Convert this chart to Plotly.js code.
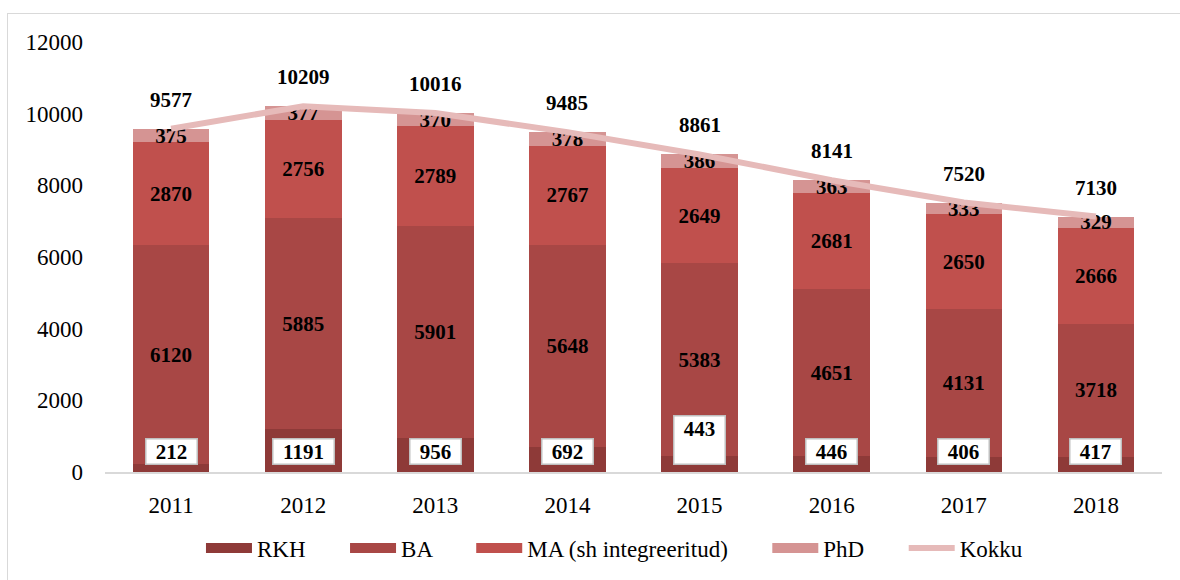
<!DOCTYPE html>
<html><head><meta charset="utf-8">
<script src="https://cdn.plot.ly/plotly-3.0.1.min.js"></script>
<style>
html,body{margin:0;padding:0;background:#fff;}
#wrap{position:relative;width:1180px;height:580px;overflow:hidden;}
#chart{position:absolute;left:0;top:0;width:1180px;height:580px;}
#frame{position:absolute;left:7px;top:13px;width:1300px;height:700px;border:1.5px solid #d9d9d9;pointer-events:none;}
</style></head>
<body><div id="wrap"><div id="chart"></div><div id="frame"></div></div>
<script>
const years = ['2011','2012','2013','2014','2015','2016','2017','2018'];
const rkh = [212,1191,956,692,443,446,406,417];
const ba  = [6120,5885,5901,5648,5383,4651,4131,3718];
const ma  = [2870,2756,2789,2767,2649,2681,2650,2666];
const phd = [375,377,370,378,386,363,333,329];
const kokku = [9577,10209,10016,9485,8861,8141,7520,7130];
const seriesNames = ['RKH','BA','MA (sh integreeritud)','PhD','Kokku'];
const colors = ['#8E3A38','#A84745','#C0504D','#D59493','#E6BAB9'];

const font = 'Liberation Serif, Times New Roman, serif';
const labFont = {family:font,size:21,color:'#000',weight:'bold'};

function barTrace(name, vals, color, showText){
  return {type:'bar', name:name, x:years, y:vals, showlegend:false, legendgroup:name,
    marker:{color:color, line:{width:0}},
    text: showText ? vals.map(String) : undefined,
    texttemplate: showText ? '<b>%{text}</b>' : undefined,
    textposition: showText ? 'inside' : 'none',
    insidetextanchor:'middle', textangle:0, constraintext:'none',
    insidetextfont:labFont, hoverinfo:'none'};
}
// legend-only entries drawn as thick line swatches
function legendEntry(name, color, width, last){
  return {type:'scatter', mode:'lines', name: last ? name : name + '      ', x:[null], y:[null],
    legendgroup:name, line:{color:color, width:width}, hoverinfo:'none'};
}
const traces = [
  barTrace(seriesNames[0], rkh, colors[0], false),
  barTrace(seriesNames[1], ba, colors[1], true),
  barTrace(seriesNames[2], ma, colors[2], true),
  barTrace(seriesNames[3], phd, colors[3], true),
  {type:'scatter', mode:'lines', name:seriesNames[4], x:years, y:kokku, showlegend:false,
   line:{color:colors[4], width:6}, hoverinfo:'none'},
  legendEntry(seriesNames[0], colors[0], 13),
  legendEntry(seriesNames[1], colors[1], 13),
  legendEntry(seriesNames[2], colors[2], 13),
  legendEntry(seriesNames[3], colors[3], 13),
  legendEntry(seriesNames[4], colors[4], 6, true)
];

const annotations = [];
kokku.forEach((v,i)=>{
  annotations.push({x:i, y:v, xref:'x', yref:'y', text:'<b>'+v+'</b>',
    showarrow:false, yanchor:'middle', yshift:29, font:labFont});
});
rkh.forEach((v,i)=>{
  const a = {x:i, y:0, xref:'x', yref:'y', text:'<b>'+v+'</b>',
    showarrow:false, yanchor:'bottom', yshift:7, font:labFont,
    bgcolor:'#fff', bordercolor:'#bfbfbf', borderwidth:1.5, borderpad:0, width:50, height:24};
  if (v === 443) { a.height = 47; a.valign = 'top'; }
  if (v >= 1000) a.width = 60;
  annotations.push(a);
});

const layout = {
  width:1180, height:580,
  margin:{l:105, r:18, t:42, b:107},
  paper_bgcolor:'rgba(0,0,0,0)', plot_bgcolor:'rgba(0,0,0,0)',
  barmode:'stack', bargap:0.42,
  showlegend:true,
  legend:{orientation:'h', x:0.482, xanchor:'center', y:-0.124, yanchor:'top',
    font:{family:font, size:23, color:'#000'}, itemwidth:46, traceorder:'normal'},
  xaxis:{type:'category', showgrid:false, zeroline:false, showline:true,
    linecolor:'#d9d9d9', linewidth:1.5, ticks:'', ticklabelstandoff:12,
    tickfont:{family:font, size:23, color:'#000'}},
  yaxis:{range:[0,12000], dtick:2000, showgrid:false, zeroline:false, showline:false,
    ticks:'', ticklabelstandoff:21, tickformat:'d',
    tickfont:{family:font, size:23, color:'#000'}},
  annotations:annotations,
  font:{family:font}
};
Plotly.newPlot('chart', traces, layout, {displayModeBar:false, staticPlot:true});
</script></body></html>
